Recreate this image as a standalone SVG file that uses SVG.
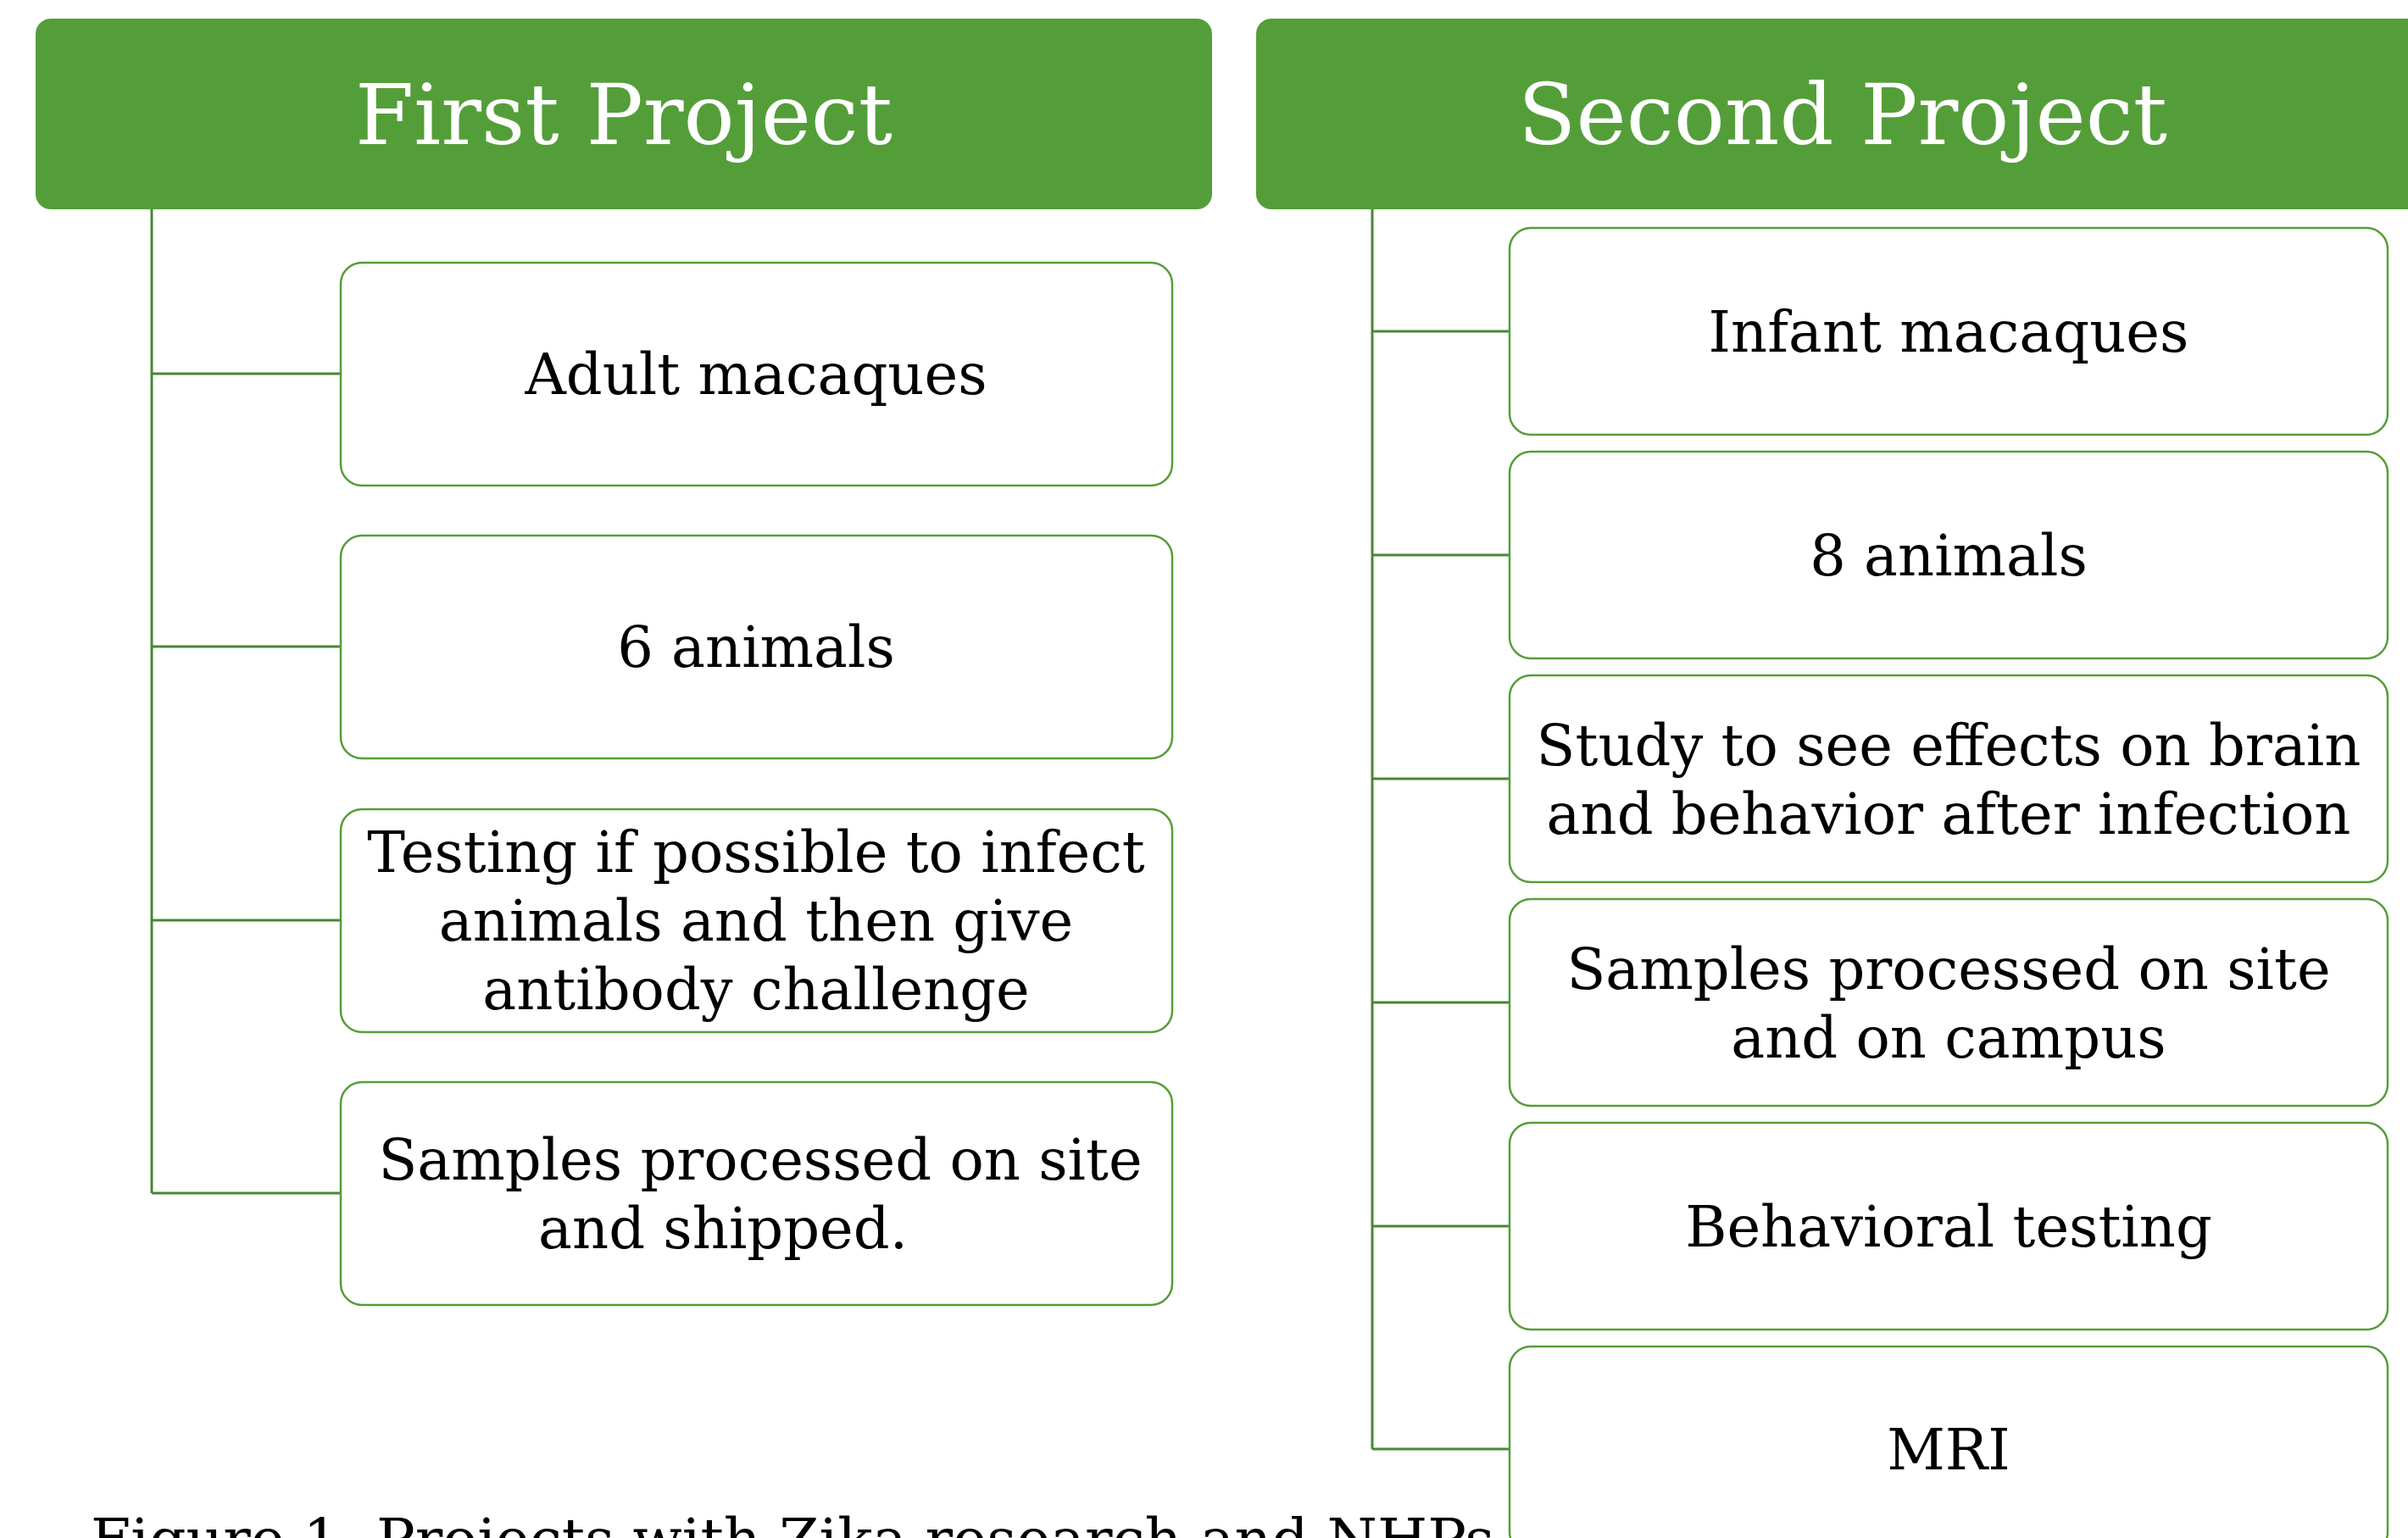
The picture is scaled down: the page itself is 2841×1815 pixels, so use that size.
<svg xmlns="http://www.w3.org/2000/svg" width="2841" height="1815" viewBox="0 0 2841 1815">
<style>
.hdr{fill:#549E39}
.box{fill:#FFFFFF;stroke:#549E39;stroke-width:2.5}
.con{fill:none;stroke:#4A8634;stroke-width:3}
.ht{font-family:"DejaVu Serif",serif;font-size:100px;fill:#FFFFFF;text-anchor:middle}
.bt{font-family:"DejaVu Serif",serif;font-size:67px;fill:#000000;text-anchor:middle}
.cap{font-family:"DejaVu Serif",serif;font-size:68px;fill:#000000}
</style>
<rect width="2841" height="1815" fill="#FFFFFF"/>
<g id="connectors">
<path class="con" d="M179 246 V1408 M179 441 H402 M179 763 H402 M179 1086 H402 M179 1408 H402"/>
<path class="con" d="M1619 246 V1710 M1619 391 H1781 M1619 655 H1781 M1619 919 H1781 M1619 1183 H1781 M1619 1447 H1781 M1619 1710 H1781"/>
</g>
<g id="first-project">
<rect class="hdr" x="42" y="22" width="1388" height="225" rx="18"/>
<text class="ht" x="736" y="170">First Project</text>
</g>
<g id="second-project">
<rect class="hdr" x="1482" y="22" width="1420" height="225" rx="18"/>
<text class="ht" x="2174" y="170">Second Project</text>
</g>
<g id="p1-adult">
<rect class="box" x="402" y="310" width="981" height="263" rx="25"/>
<text class="bt" x="892" y="465">Adult macaques</text>
</g>
<g id="p1-animals">
<rect class="box" x="402" y="632" width="981" height="263" rx="25"/>
<text class="bt" x="892" y="787">6 animals</text>
</g>
<g id="p1-testing">
<rect class="box" x="402" y="955" width="981" height="263" rx="25"/>
<text class="bt" x="892" y="1029">Testing if possible to infect</text>
<text class="bt" x="892" y="1110">animals and then give</text>
<text class="bt" x="892" y="1191">antibody challenge</text>
</g>
<g id="p1-samples">
<rect class="box" x="402" y="1277" width="981" height="263" rx="25"/>
<text class="bt" x="897" y="1392">Samples processed on site</text>
<text class="bt" x="853" y="1473">and shipped.</text>
</g>
<g id="p2-infant">
<rect class="box" x="1781" y="269" width="1036" height="244" rx="25"/>
<text class="bt" x="2299" y="415">Infant macaques</text>
</g>
<g id="p2-animals">
<rect class="box" x="1781" y="533" width="1036" height="244" rx="25"/>
<text class="bt" x="2299" y="679">8 animals</text>
</g>
<g id="p2-study">
<rect class="box" x="1781" y="797" width="1036" height="244" rx="25"/>
<text class="bt" x="2299" y="903">Study to see effects on brain</text>
<text class="bt" x="2299" y="984">and behavior after infection</text>
</g>
<g id="p2-samples">
<rect class="box" x="1781" y="1061" width="1036" height="244" rx="25"/>
<text class="bt" x="2299" y="1167">Samples processed on site</text>
<text class="bt" x="2299" y="1248">and on campus</text>
</g>
<g id="p2-behavior">
<rect class="box" x="1781" y="1325" width="1036" height="244" rx="25"/>
<text class="bt" x="2299" y="1471">Behavioral testing</text>
</g>
<g id="p2-mri">
<rect class="box" x="1781" y="1589" width="1036" height="244" rx="25"/>
<text class="bt" x="2299" y="1734">MRI</text>
</g>
<g id="caption">
<text class="cap" x="107" y="1840">Figure 1. Projects with Zika research and NHPs</text>
</g>
</svg>
